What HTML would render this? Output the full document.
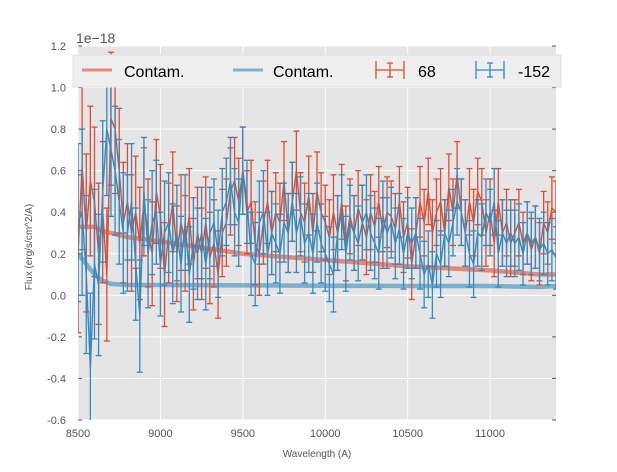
<!DOCTYPE html>
<html><head><meta charset="utf-8"><style>
body{margin:0;background:#fff;font-family:"Liberation Sans",sans-serif}
svg text{font-family:"Liberation Sans",sans-serif}
</style></head><body>
<svg id="c" width="617" height="467"></svg>
<script>
const wl=[8500,8525,8550,8575,8600,8625,8650,8675,8700,8725,8750,8775,8800,8825,8850,8875,8900,8925,8950,8975,9000,9025,9050,9075,9100,9125,9150,9175,9200,9225,9250,9275,9300,9325,9350,9375,9400,9425,9450,9475,9500,9525,9550,9575,9600,9625,9650,9675,9700,9725,9750,9775,9800,9825,9850,9875,9900,9925,9950,9975,10000,10025,10050,10075,10100,10125,10150,10175,10200,10225,10250,10275,10300,10325,10350,10375,10400,10425,10450,10475,10500,10525,10550,10575,10600,10625,10650,10675,10700,10725,10750,10775,10800,10825,10850,10875,10900,10925,10950,10975,11000,11025,11050,11075,11100,11125,11150,11175,11200,11225,11250,11275,11300,11325,11350,11375,11400];
const redFlux=[0.20,0.62,0.30,0.55,0.45,0.20,0.40,0.10,0.85,0.80,0.60,0.35,
0.45,0.30,0.40,0.25,0.45,0.30,0.20,0.50,0.38,0.10,0.30,0.45,
0.20,0.35,0.25,0.38,0.15,0.30,0.20,0.35,0.18,0.25,0.10,0.30,
0.35,0.50,0.55,0.45,0.60,0.40,0.45,0.25,0.20,0.35,0.45,0.30,
0.40,0.35,0.55,0.30,0.45,0.60,0.40,0.35,0.48,0.30,0.50,0.40,
0.35,0.28,0.40,0.30,0.45,0.25,0.38,0.30,0.42,0.35,0.28,0.40,
0.33,0.45,0.30,0.40,0.38,0.32,0.45,0.28,0.35,0.15,0.30,0.45,
0.35,0.50,0.30,0.40,0.45,0.30,0.52,0.40,0.58,0.40,0.30,0.45,
0.35,0.50,0.45,0.30,0.40,0.25,0.45,0.30,0.35,0.25,0.30,0.35,
0.25,0.30,0.22,0.28,0.20,0.35,0.30,0.42,0.40];
const redErr=[0.38,0.40,0.38,0.36,0.36,0.34,0.34,0.32,0.32,0.31,0.30,0.29,
0.28,0.28,0.27,0.27,0.26,0.26,0.25,0.25,0.25,0.25,0.24,0.24,
0.23,0.23,0.23,0.23,0.22,0.22,0.22,0.22,0.22,0.21,0.21,0.21,
0.21,0.21,0.21,0.21,0.21,0.20,0.20,0.20,0.20,0.20,0.20,0.20,
0.19,0.19,0.19,0.19,0.19,0.19,0.19,0.19,0.19,0.19,0.19,0.19,
0.18,0.18,0.18,0.18,0.18,0.18,0.18,0.18,0.18,0.18,0.18,0.18,
0.17,0.17,0.17,0.17,0.17,0.17,0.17,0.17,0.17,0.17,0.17,0.17,
0.16,0.16,0.16,0.16,0.16,0.16,0.16,0.16,0.16,0.16,0.16,0.16,
0.16,0.16,0.16,0.16,0.16,0.16,0.16,0.16,0.16,0.16,0.16,0.16,
0.15,0.15,0.15,0.15,0.15,0.15,0.15,0.15,0.15];
const blueFlux=[0.35,0.40,0.10,-0.35,0.15,0.05,0.50,0.80,0.70,0.60,0.45,0.30,
0.30,0.45,0.15,-0.10,0.50,0.20,0.35,0.40,0.15,0.30,0.35,0.20,
0.30,0.15,0.35,0.10,0.25,0.20,0.30,0.15,0.30,0.35,0.20,0.40,
0.45,0.55,0.40,0.35,0.60,0.45,0.20,0.15,0.35,0.40,0.20,0.30,
0.25,0.20,0.35,0.30,0.45,0.30,0.38,0.25,0.30,0.20,0.35,0.25,
0.20,0.15,0.10,0.30,0.40,0.20,0.35,0.30,0.25,0.35,0.40,0.30,
0.25,0.20,0.38,0.30,0.35,0.25,0.32,0.20,0.30,0.25,0.30,0.20,
0.10,0.15,0.05,0.20,0.15,0.30,0.25,0.35,0.45,0.40,0.30,0.20,
0.15,0.30,0.28,0.40,0.35,0.45,0.20,0.30,0.25,0.30,0.25,0.28,
0.20,0.30,0.25,0.28,0.22,0.25,0.20,0.22,0.18];
const blueErr=redErr;
const contamX=[8500,8600,8650,8700,8800,9000,9500,10000,10500,11000,11300,11400];
const contamRed=[0.33,0.33,0.31,0.30,0.28,0.26,0.20,0.17,0.14,0.12,0.10,0.10];
const contamBlue=[0.20,0.10,0.07,0.055,0.05,0.05,0.048,0.046,0.045,0.045,0.04,0.045];
const yTicks=[-0.6,-0.4,-0.2,0.0,0.2,0.4,0.6,0.8,1.0,1.2];
const xTicks=[8500,9000,9500,10000,10500,11000];

const NS='http://www.w3.org/2000/svg';
const svg=document.getElementById('c');
const L=78,R=556,T=46,B=420;
const X=v=>L+(v-8500)/(11400-8500)*(R-L);
const Y=v=>B-(v+0.6)/1.8*(B-T);
let target=svg;
function mk(tag,at,parent){const e=document.createElementNS(NS,tag);for(const k in at)e.setAttribute(k,at[k]);(parent||target).appendChild(e);return e;}
const bg=mk('rect',{x:L,y:T,width:R-L,height:B-T,fill:'#e5e5e5'});


yTicks.forEach(t=>{
  const g=mk('line',{x1:L,x2:R,y1:Y(t),y2:Y(t),stroke:'#fff','stroke-width':1});
  
  
  const tx=mk('text',{x:L-12,y:Y(t)+4,'text-anchor':'end','font-size':11,fill:'#555'});
  tx.textContent=t.toFixed(1);
  
  
  mk('line',{x1:L,x2:L+4,y1:Y(t),y2:Y(t),stroke:'#555'});
  mk('line',{x1:R-4,x2:R,y1:Y(t),y2:Y(t),stroke:'#555'});
});
xTicks.forEach(t=>{
  const g=mk('line',{x1:X(t),x2:X(t),y1:T,y2:B,stroke:'#fff','stroke-width':1});
  
  
  const tx=mk('text',{x:X(t),y:B+17,'text-anchor':'middle','font-size':11,fill:'#555'});
  tx.textContent=t;
  
  
});
function line(xs,ys,color,w,op,name){
  const p=mk('polyline',{points:xs.map((x,i)=>X(x)+','+Y(ys[i])).join(' '),fill:'none',stroke:color,'stroke-width':w,'stroke-opacity':op,'stroke-linejoin':'round'});
  
  
}
function errbars(ys,es,color,name){
  const g=mk('g',{stroke:color,'stroke-width':1.3,fill:'none'});
  
  
  wl.forEach((w,i)=>{
    const x=X(w),y1=Y(ys[i]-es[i]),y2=Y(ys[i]+es[i]);
    mk('line',{x1:x,x2:x,y1:y1,y2:y2},g);
    mk('line',{x1:x-3,x2:x+3,y1:y1,y2:y1},g);
    mk('line',{x1:x-3,x2:x+3,y1:y2,y2:y2},g);
  });
  line(wl,ys,color,1.4,1,name+'-line');
}
const defs=mk('defs',{});
const clip=mk('clipPath',{id:'cp'},defs);mk('rect',{x:L,y:T,width:R-L,height:B-T},clip);
const body=mk('g',{'clip-path':'url(#cp)'});


target=body;
line(contamX,contamRed,'#E24A33',4.5,0.6,'contam-red-line');
line(contamX,contamBlue,'#348ABD',4.5,0.6,'contam-blue-line');
errbars(redFlux,redErr,'#E24A33','series-68');
errbars(blueFlux,blueErr,'#348ABD','series-minus-152');
target=svg;
// legend
const lg=mk('g',{});


mk('rect',{x:73,y:55,width:488,height:32,fill:'#eeeeee',stroke:'#e0e0e0'},lg);
function lt(x,s,name){const t=mk('text',{x:x,y:77,'font-size':16,fill:'#000'},lg);t.textContent=s;}
mk('line',{x1:82,x2:112,y1:70,y2:70,stroke:'#E24A33','stroke-width':3,'stroke-opacity':0.6},lg);
lt(124,'Contam.','legend-contam-red');
mk('line',{x1:233,x2:263,y1:70,y2:70,stroke:'#348ABD','stroke-width':3,'stroke-opacity':0.6},lg);
lt(273,'Contam.','legend-contam-blue');
[[390,'#E24A33','68',418],[490,'#348ABD','-152',518]].forEach(([cx,c,s,tx])=>{
  mk('line',{x1:cx-14,x2:cx+14,y1:70,y2:70,stroke:c,'stroke-width':1.3},lg);
  mk('line',{x1:cx-14,x2:cx-14,y1:61,y2:79,stroke:c,'stroke-width':1.3},lg);
  mk('line',{x1:cx+14,x2:cx+14,y1:61,y2:79,stroke:c,'stroke-width':1.3},lg);
  mk('line',{x1:cx-3,x2:cx+3,y1:63,y2:63,stroke:c,'stroke-width':1.3},lg);
  mk('line',{x1:cx,x2:cx,y1:63,y2:77,stroke:c,'stroke-width':1.3},lg);
  mk('line',{x1:cx-3,x2:cx+3,y1:77,y2:77,stroke:c,'stroke-width':1.3},lg);
  lt(tx,s,'legend-'+s);
});
const off=mk('text',{x:76,y:43,'font-size':14,fill:'#555'});off.textContent='1e\u221218';

const xl=mk('text',{x:(L+R)/2,y:457,'text-anchor':'middle','font-size':10,fill:'#555'});xl.textContent='Wavelength (A)';

const yl=mk('text',{x:32,y:(T+B)/2+14,'text-anchor':'middle','font-size':10,fill:'#555',transform:'rotate(-90 32 '+((T+B)/2+14)+')'});yl.textContent='Flux (erg/s/cm^2/A)';

</script>
</body></html>
